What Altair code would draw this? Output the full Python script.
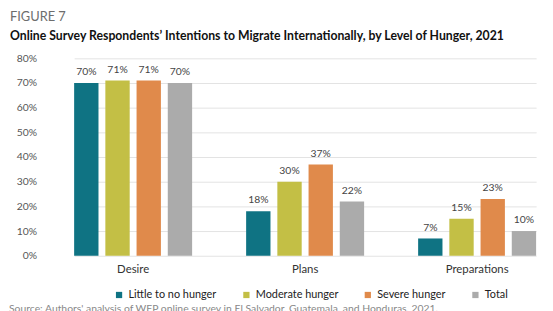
import altair as alt
import pandas as pd

categories = ["Desire", "Plans", "Preparations"]
series = ["Little to no hunger", "Moderate hunger", "Severe hunger", "Total"]
little = [70, 18, 7]
moderate = [71, 30, 15]
severe = [71, 37, 23]
total = [70, 22, 10]
colors = ["#0f7383", "#c3bf45", "#e08a4b", "#ababab"]
y_ticks = [0, 10, 20, 30, 40, 50, 60, 70, 80]
source_text = "Source: Authors' analysis of WFP online survey in El Salvador, Guatemala, and Honduras, 2021."

rows = []
for s, vals in zip(series, [little, moderate, severe, total]):
    for c, v in zip(categories, vals):
        rows.append({"category": c, "series": s, "value": v, "label": f"{v}%"})
df = pd.DataFrame(rows)

FONT = "Lato"

x = alt.X("category:N", sort=categories, title=None,
          scale=alt.Scale(range=[28, 496], paddingInner=0.314, paddingOuter=0),
          axis=alt.Axis(labelAngle=0, ticks=False, domain=False, labelPadding=8,
                        labelFontSize=11.5, labelColor="#333", labelFont=FONT))
xo = alt.XOffset("series:N", sort=series,
                 scale=alt.Scale(paddingInner=0.22, paddingOuter=0))
y = alt.Y("value:Q", title=None,
          scale=alt.Scale(domain=[0, 80], nice=False),
          axis=alt.Axis(values=y_ticks, labelExpr="datum.value + '%'", ticks=False,
                        domain=False, labelPadding=10, labelFontSize=10.5,
                        labelColor="#555", labelFont=FONT, gridColor="#e3e3e3"))

base = alt.Chart(df)
bars = base.mark_bar().encode(
    x=x, xOffset=xo, y=y,
    color=alt.Color("series:N", sort=series,
                    scale=alt.Scale(domain=series, range=colors),
                    legend=alt.Legend(title=None, orient="none", legendX=68, legendY=234,
                                      direction="horizontal", symbolType="square",
                                      symbolSize=40, labelFontSize=11, labelFont=FONT,
                                      labelColor="#222", columnPadding=24,
                                      symbolStrokeWidth=0, labelOffset=4)),
)
labels = base.mark_text(baseline="bottom", dy=-6, fontSize=10.5, font=FONT, color="#444").encode(
    x=x, xOffset=xo, y=y, text="label:N"
)
src = alt.Chart(pd.DataFrame({"t": [source_text]})).mark_text(
    align="left", baseline="top", fontSize=10.5, font=FONT, color="#888"
).encode(x=alt.value(-38), y=alt.value(249), text="t:N")

chart = alt.layer(bars, labels, src).properties(
    width=505, height=200,
    autosize=alt.AutoSizeParams(type="none"),
    padding={"left": 39, "top": 49, "right": 0, "bottom": 54},
    title=alt.Title(text="FIGURE 7",
                    subtitle="Online Survey Respondents\u2019 Intentions to Migrate Internationally, by Level of Hunger, 2021",
                    anchor="start", frame="group", dx=-37, offset=11, font=FONT, fontSize=13,
                    fontWeight="normal", color="#6d6d6d", subtitleFont=FONT,
                    subtitleFontSize=12.4, subtitleFontWeight="bold", subtitleColor="#111",
                    subtitlePadding=6),
).configure_view(stroke=None)

chart.save("out.html", embed_options={"renderer": "svg", "actions": False})
